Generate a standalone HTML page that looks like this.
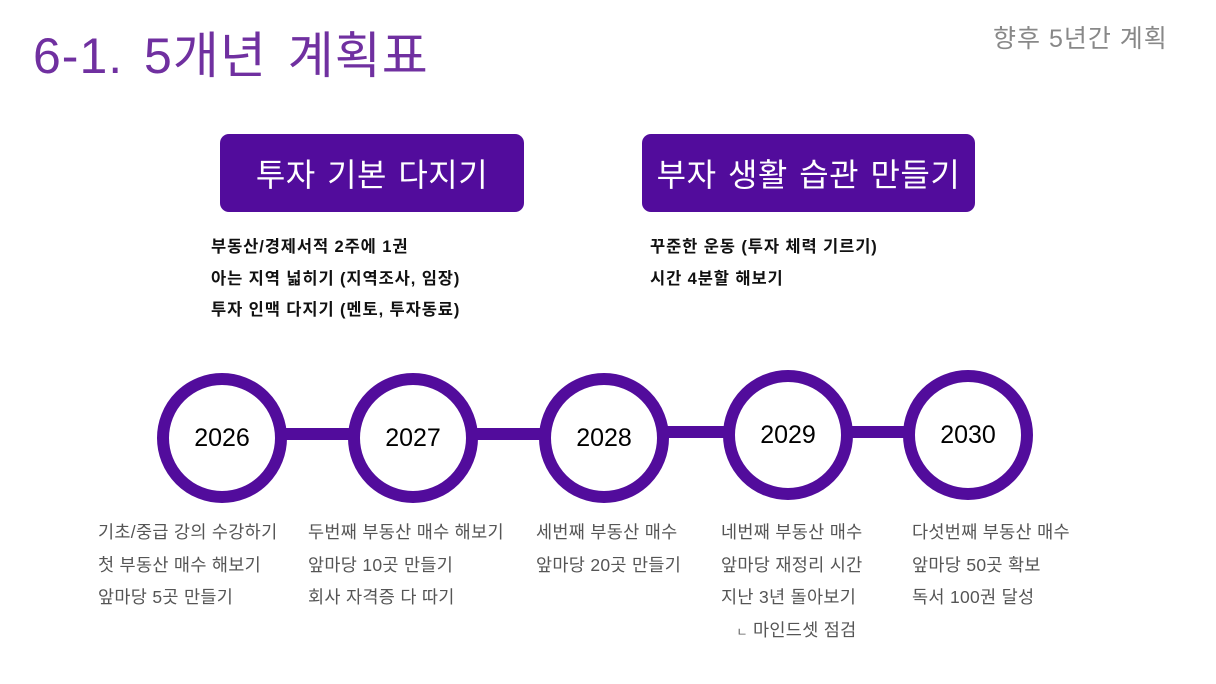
<!DOCTYPE html>
<html><head><meta charset="utf-8"><style>
body{margin:0;width:1216px;height:684px;background:#fff;position:relative;overflow:hidden;font-family:"Liberation Sans","Noto Sans CJK KR",sans-serif}
.a{position:absolute;white-space:nowrap}
.title{left:33px;top:16px;font-size:50px;color:#7030a0;letter-spacing:1px;word-spacing:6px}
.sub{left:993px;top:19px;font-size:25px;color:#888;letter-spacing:1px}
.box{position:absolute;background:#520c9c;border-radius:9px;color:#fff;font-size:32px;display:flex;align-items:center;justify-content:center;letter-spacing:0.5px;word-spacing:2px}
.b{font-size:16.5px;font-weight:bold;color:#111;line-height:31.5px;letter-spacing:0.9px}
.d{font-size:17.5px;color:#555;line-height:32.5px;letter-spacing:0.3px}
.c{position:absolute;width:106px;height:106px;border:12px solid #520c9c;border-radius:50%;background:#fff;display:flex;align-items:center;justify-content:center;font-size:25px;color:#000}
.ln{position:absolute;height:12px;background:#520c9c}
</style></head><body>
<div class="a title">6-1. 5개년 계획표</div>
<div class="a sub">향후 5년간 계획</div>
<div class="box" style="left:220px;top:134px;width:304px;height:78px">투자 기본 다지기</div>
<div class="box" style="left:642px;top:134px;width:333px;height:78px">부자 생활 습관 만들기</div>
<div class="a b" style="left:211px;top:232px">부동산/경제서적 2주에 1권<br>아는 지역 넓히기 (지역조사, 임장)<br>투자 인맥 다지기 (멘토, 투자동료)</div>
<div class="a b" style="left:650px;top:232px">꾸준한 운동 (투자 체력 기르기)<br>시간 4분할 해보기</div>
<div class="ln" style="left:222px;top:428px;width:382px"></div>
<div class="ln" style="left:604px;top:426px;width:364px"></div>
<div class="c" style="left:157px;top:373px">2026</div>
<div class="c" style="left:348px;top:373px">2027</div>
<div class="c" style="left:539px;top:373px">2028</div>
<div class="c" style="left:723px;top:370px">2029</div>
<div class="c" style="left:903px;top:370px">2030</div>
<div class="a d" style="left:98px;top:516px">기초/중급 강의 수강하기<br>첫 부동산 매수 해보기<br>앞마당 5곳 만들기</div>
<div class="a d" style="left:308px;top:516px">두번째 부동산 매수 해보기<br>앞마당 10곳 만들기<br>회사 자격증 다 따기</div>
<div class="a d" style="left:536px;top:516px">세번째 부동산 매수<br>앞마당 20곳 만들기</div>
<div class="a d" style="left:721px;top:516px">네번째 부동산 매수<br>앞마당 재정리 시간<br>지난 3년 돌아보기<br>&nbsp;&nbsp;&nbsp;<span style="font-size:12px">ㄴ</span> 마인드셋 점검</div>
<div class="a d" style="left:912px;top:516px">다섯번째 부동산 매수<br>앞마당 50곳 확보<br>독서 100권 달성</div>
</body></html>
